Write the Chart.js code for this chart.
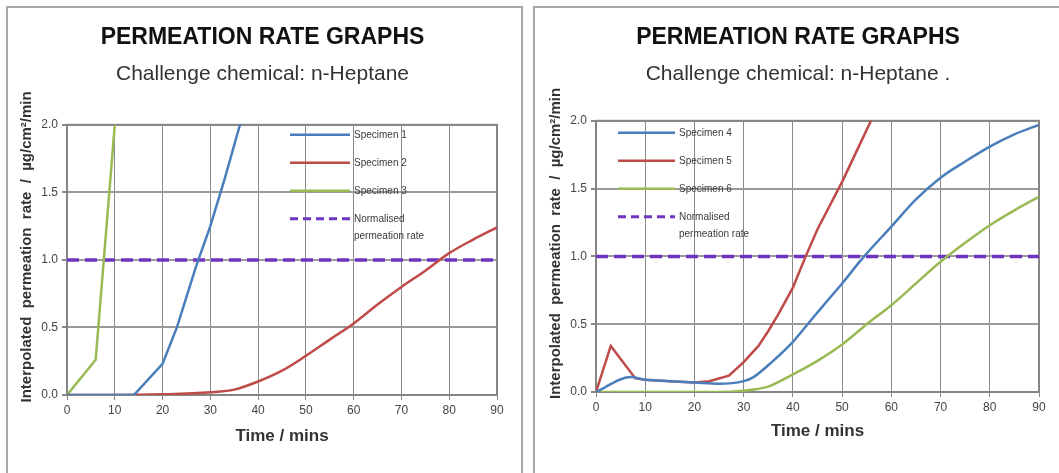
<!DOCTYPE html>
<html>
<head>
<meta charset="utf-8">
<title>Permeation rate graphs</title>
<script src="https://cdn.jsdelivr.net/npm/chart.js@4.4.1/dist/chart.umd.min.js"></script>
<style>
  html, body { margin: 0; padding: 0; background: #fff; }
  body { width: 1059px; height: 473px; position: relative; overflow: hidden; }
  .panel { position: absolute; top: 6px; border: 2px solid #a8a8a8; box-sizing: border-box; }
  #panelLeft { left: 6px; width: 517px; height: 490px; }
  #panelRight { left: 533px; width: 540px; height: 490px; }
  canvas { position: absolute; }
</style>
</head>
<body>
<div class="panel" id="panelLeft"></div>
<div class="panel" id="panelRight"></div>
<canvas id="leftChart" width="512" height="465" style="left:8px;top:8px"></canvas>
<canvas id="rightChart" width="523" height="465" style="left:535px;top:8px"></canvas>

<script>
// ---- data (time in mins, rate in ug/cm2/min) ----
const xTickLabels = [0, 10, 20, 30, 40, 50, 60, 70, 80, 90];
const yTickLabels = ['0.0', '0.5', '1.0', '1.5', '2.0'];

const spec1Time = [0, 5, 10, 14, 20, 23, 27, 30, 33, 37];
const spec1Rate = [0, 0, 0, 0, 0.23, 0.5, 0.95, 1.25, 1.6, 2.1];

const spec2Time = [0, 10, 20, 30, 35, 40, 45, 50, 55, 60, 65, 70, 75, 80, 85, 90];
const spec2Rate = [0, 0, 0.005, 0.02, 0.04, 0.1, 0.18, 0.29, 0.41, 0.53, 0.67, 0.8, 0.92, 1.05, 1.15, 1.24];

const spec3Time = [0, 6, 10];
const spec3Rate = [0, 0.26, 2.0];

const spec4Time = [0, 7, 10, 15, 20, 25, 30, 32, 36, 40, 43, 46, 50, 54, 60, 65, 70, 75, 80, 85, 90];
const spec4Rate = [0, 0.11, 0.09, 0.08, 0.07, 0.06, 0.08, 0.11, 0.23, 0.37, 0.5, 0.63, 0.8, 0.98, 1.22, 1.42, 1.58, 1.7, 1.81, 1.9, 1.97];

const spec5Time = [0, 3, 8, 10, 15, 20, 23, 27, 30, 33, 35, 37, 40, 42.6, 45, 50, 53, 56.5];
const spec5Rate = [0, 0.34, 0.1, 0.09, 0.08, 0.07, 0.08, 0.12, 0.22, 0.34, 0.45, 0.57, 0.77, 1.0, 1.2, 1.55, 1.78, 2.05];

const spec6Time = [0, 10, 20, 25, 30, 35, 40, 45, 50, 55, 60, 65, 70, 75, 80, 85, 90];
const spec6Rate = [0, 0, 0, 0, 0.01, 0.04, 0.13, 0.23, 0.35, 0.5, 0.64, 0.8, 0.96, 1.1, 1.23, 1.34, 1.44];

const normTime = [0, 90];
const normRate = [1, 1];

const FONT = "'Liberation Sans', Arial, sans-serif";
const BLUE = '#4a7ebb', RED = '#be4b48', GREEN = '#98b954', PURPLE = '#6f35c0';

const toPoints = (t, v) => t.map((x, i) => ({ x, y: v[i] }));

function line(label, t, v, color, smooth) {
    return {
        label,
        data: toPoints(t, v),
        borderColor: color,
        backgroundColor: color,
        borderWidth: 2.5,
        pointRadius: 0,
        tension: 0,
        cubicInterpolationMode: smooth ? 'monotone' : 'default',
        fill: false
    };
}

function normLine() {
    return {
        label: 'Normalised\npermeation rate',
        data: toPoints(normTime, normRate),
        borderColor: PURPLE,
        backgroundColor: PURPLE,
        borderWidth: 3.5,
        borderDash: [12, 6],
        pointRadius: 0,
        fill: false
    };
}

// frame round the plot area
const plotFrame = {
    id: 'plotFrame',
    beforeDatasetsDraw(chart) {
        const { ctx, chartArea: a } = chart;
        ctx.save();
        ctx.strokeStyle = '#858585';
        ctx.lineWidth = 2;
        ctx.strokeRect(a.left, a.top, a.right - a.left, a.bottom - a.top);
        ctx.restore();
    }
};

// legend sitting inside the plot, like the excel original
const insideLegend = {
    id: 'insideLegend',
    afterDatasetsDraw(chart, args, opts) {
        const { ctx, chartArea } = chart;
        ctx.save();
        ctx.font = '10px ' + FONT;
        ctx.textBaseline = 'middle';
        chart.data.datasets.forEach((ds, i) => {
            const x0 = chartArea.left + opts.left;
            const y = chartArea.top + opts.top + i * 28;
            ctx.beginPath();
            ctx.strokeStyle = ds.borderColor;
            ctx.lineWidth = ds.borderDash ? 3 : 2.5;
            ctx.setLineDash(ds.borderDash ? [8, 5] : []);
            ctx.moveTo(x0, y);
            ctx.lineTo(x0 + opts.lineLength, y);
            ctx.stroke();
            ctx.setLineDash([]);
            ctx.fillStyle = '#3a3a3a';
            ds.label.split('\n').forEach((txt, k) => {
                ctx.fillText(txt, x0 + opts.lineLength + 4, y + k * 17);
            });
        });
        ctx.restore();
    }
};

// rotated y axis title (sits a bit above the plot centre in the original)
const yTitle = {
    id: 'yTitle',
    afterDraw(chart, args, opts) {
        const { ctx, chartArea: a } = chart;
        ctx.save();
        ctx.translate(a.left - 40, (a.top + a.bottom) / 2 + opts.shift);
        ctx.rotate(-Math.PI / 2);
        ctx.font = 'bold 15px ' + FONT;
        ctx.fillStyle = '#333';
        ctx.textAlign = 'center';
        ctx.textBaseline = 'middle';
        ctx.fillText(opts.text, 0, 0);
        ctx.restore();
    }
};

function makeChart(id, datasets, p) {
    const ctx = document.getElementById(id).getContext('2d');
    return new Chart(ctx, {
        type: 'line',
        data: { datasets },
        options: {
            responsive: false,
            animation: false,
            layout: { padding: { left: p.padLeft, right: p.padRight, top: 0, bottom: p.padBottom } },
            plugins: {
                legend: { display: false },
                tooltip: { enabled: false },
                title: {
                    display: true,
                    text: 'PERMEATION RATE GRAPHS',
                    color: '#111',
                    font: { family: FONT, size: 23, weight: 'bold' },
                    padding: { top: 16, bottom: 0 }
                },
                subtitle: {
                    display: true,
                    text: p.subtitle,
                    color: '#333',
                    font: { family: FONT, size: 21 },
                    padding: { top: 10, bottom: p.subBottom }
                },
                insideLegend: { left: p.legLeft, top: p.legTop, lineLength: p.legLen },
                yTitle: { text: 'Interpolated  permeation  rate  /  µg/cm²/min', shift: -13 }
            },
            scales: {
                x: {
                    type: 'linear',
                    min: 0,
                    max: 90,
                    afterFit(scale) { scale.height = p.xHeight; },
                    afterBuildTicks(scale) { scale.ticks = xTickLabels.map(v => ({ value: v })); },
                    ticks: { color: '#444', font: { family: FONT, size: 12 }, padding: 3, maxRotation: 0 },
                    grid: { color: '#8a8a8a', lineWidth: 1, borderDash: [2, 3], tickLength: 5, tickBorderDash: [], tickColor: '#888' },
                    border: { display: true, color: '#858585', width: 2 },
                    title: {
                        display: true,
                        text: 'Time / mins',
                        color: '#333',
                        font: { family: FONT, size: 17, weight: 'bold' },
                        padding: { top: 0, bottom: 0 }
                    }
                },
                y: {
                    min: 0,
                    max: 2,
                    afterFit(scale) { scale.width = 39; },
                    afterBuildTicks(scale) { scale.ticks = yTickLabels.map(v => ({ value: Number(v) })); },
                    ticks: {
                        color: '#444',
                        font: { family: FONT, size: 12 },
                        padding: 4,
                        callback: v => yTickLabels.find(l => Number(l) === v)
                    },
                    grid: { color: '#9a9a9a', lineWidth: 2, tickLength: 5, tickColor: '#888' },
                    border: { display: true, color: '#858585', width: 2 }
                }
            }
        },
        plugins: [plotFrame, insideLegend, yTitle]
    });
}

makeChart('leftChart', [
    line('Specimen 1', spec1Time, spec1Rate, BLUE, false),
    line('Specimen 2', spec2Time, spec2Rate, RED, true),
    line('Specimen 3', spec3Time, spec3Rate, GREEN, false),
    normLine()
], {
    subtitle: 'Challenge chemical: n-Heptane',
    padLeft: 20, padRight: 23, padBottom: 26, subBottom: 38, xHeight: 52,
    legLeft: 223, legTop: 10, legLen: 60
});

makeChart('rightChart', [
    line('Specimen 4', spec4Time, spec4Rate, BLUE, true),
    line('Specimen 5', spec5Time, spec5Rate, RED, false),
    line('Specimen 6', spec6Time, spec6Rate, GREEN, true),
    normLine()
], {
    subtitle: 'Challenge chemical: n-Heptane .',
    padLeft: 22, padRight: 19, padBottom: 31, subBottom: 34, xHeight: 50,
    legLeft: 22, legTop: 12, legLen: 57
});
</script>
</body>
</html>
